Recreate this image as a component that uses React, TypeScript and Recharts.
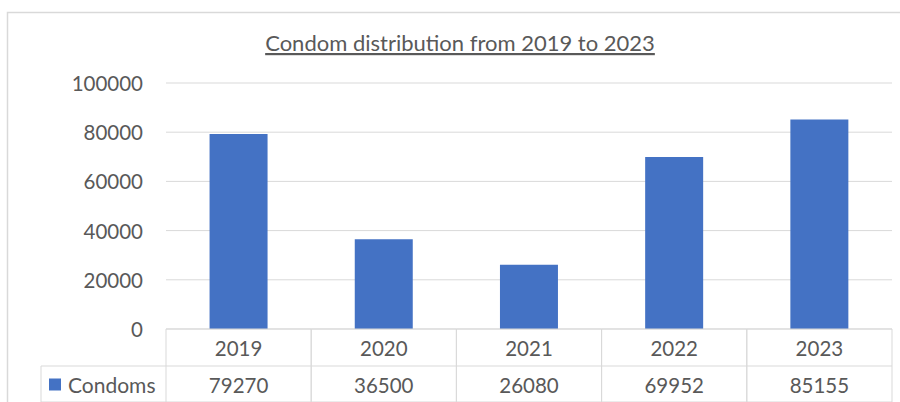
import { Bar, BarChart, CartesianGrid, XAxis, YAxis } from "recharts"

const years = ["2019", "2020", "2021", "2022", "2023"]
const condoms = [79270, 36500, 26080, 69952, 85155]
const yTicks = [0, 20000, 40000, 60000, 80000, 100000]
const seriesName = "Condoms"
const title = "Condom distribution from 2019 to 2023"

const data = years.map((year, i) => ({ year, condoms: condoms[i] }))

const W = 900
const H = 402
const plotLeft = 166
const plotRight = 8
const plotTop = 83
const plotBottom = 73
const rowH = 37
const legendLeft = 41
const font = "Lato, 'Noto Sans', sans-serif"
const textColor = "#595959"
const lineColor = "#d9d9d9"
const barColor = "#4472C4"

function YTick(props: any) {
  return (
    <text
      x={plotLeft - 23}
      y={props.y}
      textAnchor="end"
      dominantBaseline="central"
      fill={textColor}
      fontSize={20.5}
      fontFamily={font}
    >
      {props.payload.value}
    </text>
  )
}

function TableTick(props: any) {
  const { x, payload, index } = props
  const half = payload.offset || (W - plotLeft - plotRight) / years.length / 2
  const top = H - plotBottom
  const left = x - half
  const right = x + half
  const bottom = top + rowH * 2 - 1
  return (
    <g>
      <line x1={left} y1={top} x2={left} y2={bottom} stroke={lineColor} />
      <line x1={right} y1={top} x2={right} y2={bottom} stroke={lineColor} />
      <line x1={left} y1={top} x2={right} y2={top} stroke={lineColor} />
      <line x1={left} y1={top + rowH} x2={right} y2={top + rowH} stroke={lineColor} />
      <line x1={left} y1={bottom} x2={right} y2={bottom} stroke={lineColor} />
      <text x={x} y={top + rowH / 2} textAnchor="middle" dominantBaseline="central" fill={textColor} fontSize={20.5} fontFamily={font}>
        {payload.value}
      </text>
      <text x={x} y={top + rowH * 1.5} textAnchor="middle" dominantBaseline="central" fill={textColor} fontSize={20.5} fontFamily={font}>
        {condoms[index]}
      </text>
      {index === 0 && (
        <g>
          <line x1={legendLeft} y1={top + rowH} x2={left} y2={top + rowH} stroke={lineColor} />
          <line x1={legendLeft} y1={top + rowH} x2={legendLeft} y2={bottom} stroke={lineColor} />
          <line x1={legendLeft} y1={bottom} x2={left} y2={bottom} stroke={lineColor} />
          <rect x={49} y={top + rowH * 1.5 - 6} width={12} height={12} fill={barColor} />
          <text x={68} y={top + rowH * 1.5} dominantBaseline="central" fill={textColor} fontSize={21} fontFamily={font}>
            {seriesName}
          </text>
        </g>
      )}
    </g>
  )
}

export default function App() {
  return (
    <div style={{ position: "absolute", left: 0, top: 0, width: W, height: H, background: "#fff" }}>
      <svg width={W} height={H} style={{ position: "absolute", left: 0, top: 0 }}>
        <rect x={7.5} y={12.5} width={W * 2} height={H * 2} fill="none" stroke={lineColor} strokeWidth={1.5} />
        <text
          x={460}
          y={51}
          textAnchor="middle"
          fill={textColor}
          fontSize={22}
          fontFamily={font}
          textDecoration="underline"
        >
          {title}
        </text>
      </svg>
      <div style={{ position: "absolute", left: 0, top: 0 }}>
        <BarChart
          width={W}
          height={H}
          data={data}
          margin={{ top: plotTop, right: plotRight, bottom: 0, left: 0 }}
          barCategoryGap="30%"
        >
          <CartesianGrid vertical={false} stroke={lineColor} />
          <XAxis
            dataKey="year"
            height={plotBottom}
            axisLine={false}
            tickLine={false}
            tick={<TableTick />}
            interval={0}
          />
          <YAxis
            width={plotLeft}
            domain={[0, 100000]}
            ticks={yTicks}
            axisLine={false}
            tickLine={false}
            tick={<YTick />}
          />
          <Bar dataKey="condoms" fill={barColor} isAnimationActive={false} />
        </BarChart>
      </div>
    </div>
  )
}
